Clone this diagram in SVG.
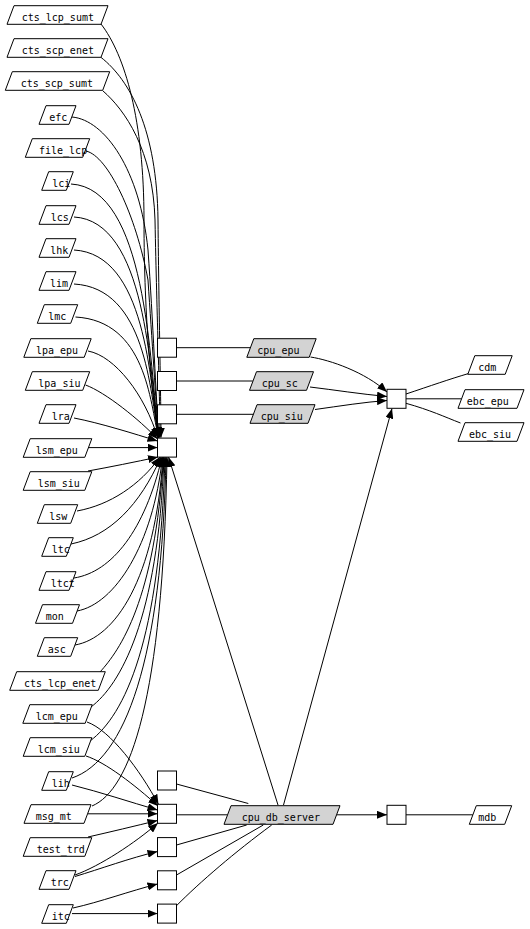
<svg xmlns="http://www.w3.org/2000/svg" width="530" height="929" viewBox="0 0 530 929">
<style>
.n polygon{fill:#fff;stroke:#000;stroke-width:1}
.g polygon{fill:#d3d3d3;stroke:#000;stroke-width:1}
.b rect{fill:#fff;stroke:#000;stroke-width:1}
text{font-family:"DejaVu Sans Mono","Liberation Mono",monospace;font-size:10px;fill:#000}
#edges path{fill:none;stroke:#000;stroke-width:1}
#edges path.a{marker-end:url(#arr)}
</style>
<defs>
<marker id="arr" markerUnits="userSpaceOnUse" markerWidth="10" markerHeight="8" refX="10" refY="4" orient="auto"><path d="M0,0 L10,4 L0,8 Z" fill="#000"/></marker>
</defs>
<rect x="0" y="0" width="530" height="929" fill="#fff"/>
<g id="edges">
<path class="a" d="M101,24 C125,55 144,120 144,220 C144,320 152,400 159.5,437.5"/>
<path class="a" d="M101,57.4 C130,80 157,130 158,220 C159,320 161,400 161,437.5"/>
<path class="a" d="M102.7,90.7 C125,110 153,150 155,220 C157,320 160,400 160,437.5"/>
<path class="a" d="M72,117 C105,120 140,170 148,250 C153,320 156,400 159,437.5"/>
<path class="a" d="M86,151 C108,156 136,215 148,280 C152,340 156,400 158.5,437.5"/>
<path class="a" d="M71,184 C146,188 150,361 158.5,437.5"/>
<path class="a" d="M74,217 C146,221 150,371 158.5,437.5"/>
<path class="a" d="M74,250 C146,254 150,381 158.5,437.5"/>
<path class="a" d="M74,284 C146,288 150,391 158.5,437.5"/>
<path class="a" d="M75.5,317 C146,321 150,402 158.5,437.5"/>
<path class="a" d="M88,351 C115,356 145,395 157.8,438"/>
<path class="a" d="M85.5,385 C105,392 140,420 157.5,439"/>
<path class="a" d="M74,418 C100,423 135,434 157.5,441"/>
<path class="a" d="M88.3,447.6 L157.5,447.6"/>
<path class="a" d="M88,471 C110,467 135,462 158,457"/>
<path class="a" d="M77,511 C110,505 140,485 160,457"/>
<path class="a" d="M71,544 C110,536 140,505 161,457"/>
<path class="a" d="M74,578 C112,572 145,530 162,457"/>
<path class="a" d="M77,611 C115,604 153,545 162.5,457"/>
<path class="a" d="M75,645 C115,638 155,580 163,457"/>
<path class="a" d="M100,672 C120,650 155,600 163.5,457"/>
<path class="a" d="M91,707 C120,685 158,620 164,457"/>
<path class="a" d="M90,741 C125,715 160,640 165,457"/>
<path class="a" d="M72,778 C125,760 162,660 166,457"/>
<path class="a" d="M92,806 C130,790 163,700 167,457"/>
<path class="a" d="M278,805 L168.5,457"/>
<path class="a" d="M87,722 C110,730 140,770 158.5,804.5"/>
<path class="a" d="M86,756 C105,762 135,785 158,806"/>
<path class="a" d="M72,785 C100,792 130,802 157.5,810"/>
<path class="a" d="M88,813.8 L157.5,813.8"/>
<path class="a" d="M88,837 C110,832 135,826 157.5,820.5"/>
<path class="a" d="M75,875 C100,866 135,843 158,823"/>
<path class="a" d="M75,876.5 C100,869 130,858 157.5,851.5"/>
<path class="a" d="M73,908 C100,902 130,891 157.5,884"/>
<path class="a" d="M72,913.6 L157.5,913.6"/>
<path d="M176.5,347.7 L250,347.7"/>
<path d="M176.5,381 L252.8,381"/>
<path d="M176.5,414.3 L254.5,414.3"/>
<path class="a" d="M310.5,357 C330,360 365,372 387,392"/>
<path class="a" d="M310,387 C335,390 360,394 387,396.5"/>
<path class="a" d="M315,409.5 C340,406 365,402 387,400.5"/>
<path d="M406,394 C430,386 450,379 468,373.7"/>
<path d="M406,398.8 L461.5,398.8"/>
<path d="M406,403.3 C430,410 445,417 460.5,423"/>
<path class="a" d="M283.5,805 L392,408.5"/>
<path class="a" d="M336.5,814.8 L387,814.8"/>
<path d="M406,814.8 L472.8,814.8"/>
<path d="M176.5,784 L248.3,803.5"/>
<path d="M176.5,814.8 L227.5,814.8"/>
<path d="M176.5,845 L246.7,825"/>
<path d="M176.5,875 L263.3,825"/>
<path d="M176.5,905.7 C200,882 235,852 271.7,825"/>
</g>
<g id="n_cts_lcp_sumt" class="n" transform="translate(57.5,15)"><polygon points="-43.5,-9.3 50.5,-9.3 43.5,9.3 -50.5,9.3"/><text x="-35.8" y="5.5">cts_lcp_sumt</text></g>
<g id="n_cts_scp_enet" class="n" transform="translate(57.5,48)"><polygon points="-43.5,-9.3 50.5,-9.3 43.5,9.3 -50.5,9.3"/><text x="-35.8" y="5.5">cts_scp_enet</text></g>
<g id="n_cts_scp_sumt" class="n" transform="translate(57.5,81)"><polygon points="-45.2,-9.3 52.2,-9.3 45.2,9.3 -52.2,9.3"/><text x="-36.8" y="5.5">cts_scp_sumt</text></g>
<g id="n_efc" class="n" transform="translate(57.5,115)"><polygon points="-11.5,-9.3 18.5,-9.3 11.5,9.3 -18.5,9.3"/><text x="-8.2" y="5.5">efc</text></g>
<g id="n_file_lcp" class="n" transform="translate(57.5,148)"><polygon points="-25.2,-9.3 32.2,-9.3 25.2,9.3 -32.2,9.3"/><text x="-18.5" y="5.5">file_lcp</text></g>
<g id="n_lci" class="n" transform="translate(57.5,181)"><polygon points="-8.8,-9.3 15.8,-9.3 8.8,9.3 -15.8,9.3"/><text x="-5.2" y="5.5">lci</text></g>
<g id="n_lcs" class="n" transform="translate(57.5,215)"><polygon points="-11.5,-9.3 18.5,-9.3 11.5,9.3 -18.5,9.3"/><text x="-6.8" y="5.5">lcs</text></g>
<g id="n_lhk" class="n" transform="translate(57.5,248)"><polygon points="-11.5,-9.3 18.5,-9.3 11.5,9.3 -18.5,9.3"/><text x="-7.2" y="5.5">lhk</text></g>
<g id="n_lim" class="n" transform="translate(57.5,281)"><polygon points="-11.5,-9.3 18.5,-9.3 11.5,9.3 -18.5,9.3"/><text x="-7.5" y="5.5">lim</text></g>
<g id="n_lmc" class="n" transform="translate(57.5,314)"><polygon points="-13.2,-9.3 20.2,-9.3 13.2,9.3 -20.2,9.3"/><text x="-9.2" y="5.5">lmc</text></g>
<g id="n_lpa_epu" class="n" transform="translate(57.5,348)"><polygon points="-26.7,-9.3 33.7,-9.3 26.7,9.3 -33.7,9.3"/><text x="-21.5" y="5.5">lpa_epu</text></g>
<g id="n_lpa_siu" class="n" transform="translate(57.5,381)"><polygon points="-25.2,-9.3 32.2,-9.3 25.2,9.3 -32.2,9.3"/><text x="-19.2" y="5.5">lpa_siu</text></g>
<g id="n_lra" class="n" transform="translate(57.5,414)"><polygon points="-11.5,-9.3 18.5,-9.3 11.5,9.3 -18.5,9.3"/><text x="-5.8" y="5.5">lra</text></g>
<g id="n_lsm_epu" class="n" transform="translate(57.5,448)"><polygon points="-27.3,-9.3 34.3,-9.3 27.3,9.3 -34.3,9.3"/><text x="-21.8" y="5.5">lsm_epu</text></g>
<g id="n_lsm_siu" class="n" transform="translate(57.5,481)"><polygon points="-27.3,-9.3 34.3,-9.3 27.3,9.3 -34.3,9.3"/><text x="-19.8" y="5.5">lsm_siu</text></g>
<g id="n_lsw" class="n" transform="translate(57.5,514)"><polygon points="-13.2,-9.3 20.2,-9.3 13.2,9.3 -20.2,9.3"/><text x="-8.2" y="5.5">lsw</text></g>
<g id="n_ltc" class="n" transform="translate(57.5,547)"><polygon points="-8.8,-9.3 15.8,-9.3 8.8,9.3 -15.8,9.3"/><text x="-5.8" y="5.5">ltc</text></g>
<g id="n_ltct" class="n" transform="translate(57.5,581)"><polygon points="-11.5,-9.3 18.5,-9.3 11.5,9.3 -18.5,9.3"/><text x="-6.8" y="5.5">ltct</text></g>
<g id="n_mon" class="n" transform="translate(57.5,614)"><polygon points="-15,-9.3 22,-9.3 15,9.3 -22,9.3"/><text x="-11.8" y="5.5">mon</text></g>
<g id="n_asc" class="n" transform="translate(57.5,647)"><polygon points="-13.2,-9.3 20.2,-9.3 13.2,9.3 -20.2,9.3"/><text x="-9.8" y="5.5">asc</text></g>
<g id="n_cts_lcp_enet" class="n" transform="translate(57.5,681)"><polygon points="-40.8,-9.3 47.8,-9.3 40.8,9.3 -47.8,9.3"/><text x="-33.5" y="5.5">cts_lcp_enet</text></g>
<g id="n_lcm_epu" class="n" transform="translate(57.5,714)"><polygon points="-27.7,-9.3 34.7,-9.3 27.7,9.3 -34.7,9.3"/><text x="-21.8" y="5.5">lcm_epu</text></g>
<g id="n_lcm_siu" class="n" transform="translate(57.5,747)"><polygon points="-27.3,-9.3 34.3,-9.3 27.3,9.3 -34.3,9.3"/><text x="-19.8" y="5.5">lcm_siu</text></g>
<g id="n_lih" class="n" transform="translate(57.5,781)"><polygon points="-8.8,-9.3 15.8,-9.3 8.8,9.3 -15.8,9.3"/><text x="-5.8" y="5.5">lih</text></g>
<g id="n_msg_mt" class="n" transform="translate(57.5,814)"><polygon points="-26.5,-9.3 33.5,-9.3 26.5,9.3 -33.5,9.3"/><text x="-21.8" y="5.5">msg_mt</text></g>
<g id="n_test_trd" class="n" transform="translate(57.5,847)"><polygon points="-27.3,-9.3 34.3,-9.3 27.3,9.3 -34.3,9.3"/><text x="-20.8" y="5.5">test_trd</text></g>
<g id="n_trc" class="n" transform="translate(57.5,880)"><polygon points="-11.5,-9.3 18.5,-9.3 11.5,9.3 -18.5,9.3"/><text x="-6.8" y="5.5">trc</text></g>
<g id="n_itc" class="n" transform="translate(57.5,914)"><polygon points="-8.8,-9.3 15.8,-9.3 8.8,9.3 -15.8,9.3"/><text x="-5.8" y="5.5">itc</text></g>
<g id="b1" class="b"><rect x="157.5" y="338.2" width="19" height="19"/></g>
<g id="b2" class="b"><rect x="157.5" y="371.5" width="19" height="19"/></g>
<g id="b3" class="b"><rect x="157.5" y="404.8" width="19" height="19"/></g>
<g id="b4" class="b"><rect x="157.5" y="438.1" width="19" height="19"/></g>
<g id="b5" class="b"><rect x="157.5" y="771" width="19" height="19"/></g>
<g id="b6" class="b"><rect x="157.5" y="804.3" width="19" height="19"/></g>
<g id="b7" class="b"><rect x="157.5" y="837.6" width="19" height="19"/></g>
<g id="b8" class="b"><rect x="157.5" y="870.8" width="19" height="19"/></g>
<g id="b9" class="b"><rect x="157.5" y="904.1" width="19" height="19"/></g>
<g id="b10" class="b"><rect x="387" y="389.3" width="19" height="19"/></g>
<g id="b11" class="b"><rect x="387" y="805.3" width="19" height="19"/></g>
<g id="n_cpu_epu" class="g" transform="translate(281.5,348)"><polygon points="-27.7,-9.3 34.7,-9.3 27.7,9.3 -34.7,9.3"/><text x="-24.2" y="5.5">cpu_epu</text></g>
<g id="n_cpu_sc" class="g" transform="translate(281.5,381)"><polygon points="-25,-9.3 32,-9.3 25,9.3 -32,9.3"/><text x="-19.8" y="5.5">cpu_sc</text></g>
<g id="n_cpu_siu" class="g" transform="translate(282.5,414)"><polygon points="-25.5,-9.3 32.5,-9.3 25.5,9.3 -32.5,9.3"/><text x="-21.8" y="5.5">cpu_siu</text></g>
<g id="n_cpu_db_server" class="g" transform="translate(282,815)"><polygon points="-51,-9.3 58,-9.3 51,9.3 -58,9.3"/><text x="-40.3" y="5.5">cpu_db_server</text></g>
<g id="n_cdm" class="n" transform="translate(490,365)"><polygon points="-15.2,-9.3 22.2,-9.3 15.2,9.3 -22.2,9.3"/><text x="-11.7" y="5.5">cdm</text></g>
<g id="n_ebc_epu" class="n" transform="translate(491,399)"><polygon points="-26,-9.3 33,-9.3 26,9.3 -33,9.3"/><text x="-24.3" y="5.5">ebc_epu</text></g>
<g id="n_ebc_siu" class="n" transform="translate(491,432)"><polygon points="-26,-9.3 33,-9.3 26,9.3 -33,9.3"/><text x="-22" y="5.5">ebc_siu</text></g>
<g id="n_mdb" class="n" transform="translate(490.5,815)"><polygon points="-14.2,-9.3 21.2,-9.3 14.2,9.3 -21.2,9.3"/><text x="-12.2" y="5.5">mdb</text></g>
</svg>
